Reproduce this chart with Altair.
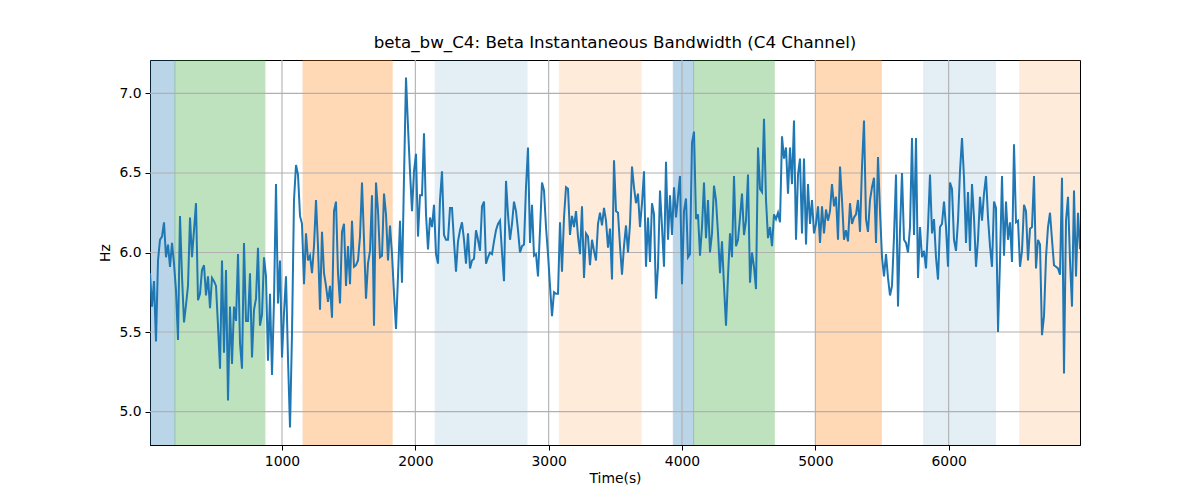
import altair as alt
import pandas as pd

# beta bandwidth readings (Hz), one every STEP seconds
hz = [
    5.87, 5.66, 5.82, 5.44, 5.95, 6.08, 6.10, 6.19, 5.97, 6.05, 5.91, 6.06, 5.93, 5.76, 5.45,
    6.23, 5.85, 5.56, 5.67, 5.79, 6.22, 5.97, 6.14, 6.31, 5.70, 5.74, 5.89, 5.92, 5.73, 5.85,
    5.65, 5.84, 5.82, 5.79, 5.54, 5.27, 5.95, 5.37, 5.89, 5.07, 5.66, 5.30, 5.66, 5.57, 5.99,
    5.43, 5.27, 6.06, 5.57, 5.57, 5.87, 5.34, 5.64, 5.71, 6.03, 5.54, 5.61, 5.97, 5.85, 5.32,
    5.74, 5.23, 5.70, 6.43, 5.68, 5.95, 5.34, 5.62, 5.85, 5.33, 4.90, 5.49, 6.33, 6.55, 6.49,
    6.23, 6.18, 5.80, 6.12, 5.95, 5.98, 5.87, 6.04, 6.33, 6.04, 5.64, 6.13, 5.87, 5.79, 5.69,
    5.79, 5.59, 6.26, 6.32, 5.87, 5.68, 6.13, 6.18, 5.79, 6.04, 5.80, 6.20, 5.91, 5.92, 5.95,
    6.10, 6.44, 6.08, 5.71, 5.93, 6.01, 6.36, 5.54, 6.44, 6.26, 5.97, 5.98, 6.37,
    6.24, 5.95, 6.17, 5.99, 5.74, 5.52, 5.85, 6.20, 5.81, 6.47, 7.10, 6.79, 6.51, 6.26, 6.51,
    6.62, 6.10, 6.36, 6.36, 6.75, 6.24, 6.02, 6.22, 6.16, 6.30, 5.99, 5.93, 6.33, 6.51, 6.11,
    6.08, 6.08, 6.28, 6.28, 6.07, 5.88, 6.07, 6.14, 6.19, 6.08, 5.93, 6.12, 5.90, 5.95, 5.96,
    6.14, 6.08, 6.01, 6.29, 6.32, 5.93, 5.97, 6.00, 5.99, 6.07, 6.14, 6.18, 6.20, 6.00,
    5.82, 6.45, 6.24, 6.08, 6.18, 6.32, 6.26, 6.14, 6.00, 6.04, 6.05, 6.41, 6.66, 6.06, 6.30,
    5.98, 5.99, 5.85, 6.14, 6.44, 6.39, 6.16, 5.99, 5.79, 5.60, 5.75, 5.74, 5.74, 6.19, 5.88,
    6.22, 6.41, 6.40, 6.11, 6.23, 6.16, 6.26, 6.10, 5.99, 6.29, 5.84, 6.12, 6.10, 5.92, 6.08,
    6.01, 5.95, 6.18, 6.25, 6.17, 6.28, 6.20, 6.03, 6.15, 5.83, 6.58, 6.26, 6.25,
    6.04, 5.86, 6.04, 6.17, 6.00, 6.18, 6.54, 6.41, 6.31, 6.37, 6.16, 6.31, 6.51, 5.91, 6.22,
    5.94, 6.31, 6.24, 5.71, 5.91, 6.39, 6.16, 5.91, 6.57, 6.08, 6.36, 6.11, 6.41, 6.22, 6.35,
    6.48, 5.80, 6.26, 6.34, 5.97, 5.99, 6.69, 6.76, 6.21, 6.24, 5.98, 6.16, 6.44, 6.09, 6.33,
    6.00, 6.12, 6.42, 6.33, 6.12, 5.87, 6.07, 5.79, 5.54, 5.85, 6.12, 5.97, 6.48, 6.04,
    6.08, 6.22, 6.37, 6.11, 6.20, 6.49, 5.81, 6.00, 5.91, 5.77, 6.66, 6.40, 6.38, 6.84, 6.33,
    6.09, 6.16, 6.04, 6.24, 6.21, 6.25, 6.19, 6.73, 6.59, 6.66, 6.37, 6.66, 6.43, 6.83, 6.08,
    6.49, 6.59, 6.12, 6.59, 6.05, 6.43, 6.18, 6.33, 6.12, 6.18, 6.29, 6.06, 6.29, 6.12, 6.27,
    6.20, 6.26, 6.43, 6.29, 6.35, 6.08, 6.54, 6.33, 6.08, 6.14, 6.07, 6.31, 6.18,
    6.22, 6.24, 6.33, 6.13, 6.54, 6.83, 6.21, 6.13, 6.33, 6.41, 6.47, 6.06, 6.60, 6.26, 5.97,
    5.85, 5.99, 5.84, 5.73, 5.79, 6.10, 6.49, 5.66, 6.14, 6.50, 6.08, 6.06, 6.00, 6.16, 6.72,
    6.11, 6.72, 5.84, 6.16, 5.97, 6.01, 5.90, 6.16, 6.49, 6.12, 6.21, 5.97, 5.83, 6.16, 6.18,
    6.32, 6.16, 5.91, 6.44, 6.40, 6.08, 6.01, 6.20, 6.51, 6.72, 6.47, 6.06, 6.38, 6.01,
    6.43, 6.22, 5.91, 6.08, 6.35, 6.20, 6.37, 6.48, 6.22, 6.04, 5.91, 6.32, 6.28, 5.50, 5.95,
    6.48, 5.98, 6.32, 6.08, 6.19, 5.94, 6.68, 6.19, 6.20, 5.91, 6.01, 6.30, 6.26, 5.95, 6.15,
    6.16, 6.48, 5.90, 6.08, 6.05, 5.48, 5.60, 5.97, 6.16, 6.25, 6.08, 5.92, 5.91, 5.90, 5.86,
    6.47, 5.24, 6.20, 6.35, 5.95, 5.66, 6.39, 5.85, 6.25, 6.02,
]
T0 = 10
STEP = 15
times = [T0 + STEP * i for i in range(len(hz))]

# shaded segments
band_start = [10, 197, 1158, 2149, 3080, 3935, 4087, 5004, 5813, 6533]
band_end = [197, 872, 1826, 2837, 3693, 4087, 4692, 5495, 6351, 6990]
band_color = ["#1f77b4", "#2ca02c", "#ff7f0e", "#1f77b4", "#ff7f0e",
              "#1f77b4", "#2ca02c", "#ff7f0e", "#1f77b4", "#ff7f0e"]
band_alpha = [0.3, 0.3, 0.3, 0.12, 0.15, 0.3, 0.3, 0.3, 0.12, 0.15]

x_ticks = [1000, 2000, 3000, 4000, 5000, 6000]
y_ticks = [5.0, 5.5, 6.0, 6.5, 7.0]

series = pd.DataFrame({"t": times, "hz": hz})
bands = pd.DataFrame({"start": band_start, "end": band_end,
                      "color": band_color, "alpha": band_alpha})

xscale = alt.Scale(domain=[times[0], times[-1]], nice=False, zero=False)
yscale = alt.Scale(domain=[4.79, 7.21], nice=False, zero=False)

rects = alt.Chart(bands).mark_rect(clip=True, strokeWidth=1).encode(
    x=alt.X("start:Q", scale=xscale),
    x2="end:Q",
    fill=alt.Fill("color:N", scale=None),
    stroke=alt.Stroke("color:N", scale=None),
    opacity=alt.Opacity("alpha:Q", scale=None),
)

vgrid = alt.Chart(pd.DataFrame({"v": x_ticks})).mark_rule(color="#b0b0b0", strokeWidth=1.1).encode(
    x=alt.X("v:Q", scale=xscale)
)
hgrid = alt.Chart(pd.DataFrame({"v": y_ticks})).mark_rule(color="#b0b0b0", strokeWidth=1.1).encode(
    y=alt.Y("v:Q", scale=yscale)
)

line = alt.Chart(series).mark_line(color="#1f77b4", strokeWidth=2, clip=True).encode(
    x=alt.X("t:Q", scale=xscale, title="Time(s)",
            axis=alt.Axis(values=x_ticks, format="d")),
    y=alt.Y("hz:Q", scale=yscale, title="Hz",
            axis=alt.Axis(values=y_ticks, format=".1f")),
)

chart = (rects + vgrid + hgrid + line).properties(
    width=930,
    height=385,
    autosize=alt.AutoSizeParams(type="none"),
    padding={"left": 142, "top": 52, "right": 112, "bottom": 47},
    title=alt.Title("beta_bw_C4: Beta Instantaneous Bandwidth (C4 Channel)",
                    font="DejaVu Sans", fontSize=16.7, fontWeight="normal",
                    color="black", offset=8),
).configure_view(
    stroke="black", strokeWidth=1
).configure_axis(
    grid=False,
    labelFont="DejaVu Sans", labelFontSize=13.9, labelColor="black",
    titleFont="DejaVu Sans", titleFontSize=13.9, titleFontWeight="normal", titleColor="black",
    tickColor="black", tickSize=5, domainColor="black", labelPadding=4,
).configure_axisY(
    titlePadding=6
).configure_axisX(
    titlePadding=4
)

chart.save("out.html", embed_options={"renderer": "svg", "actions": False})
